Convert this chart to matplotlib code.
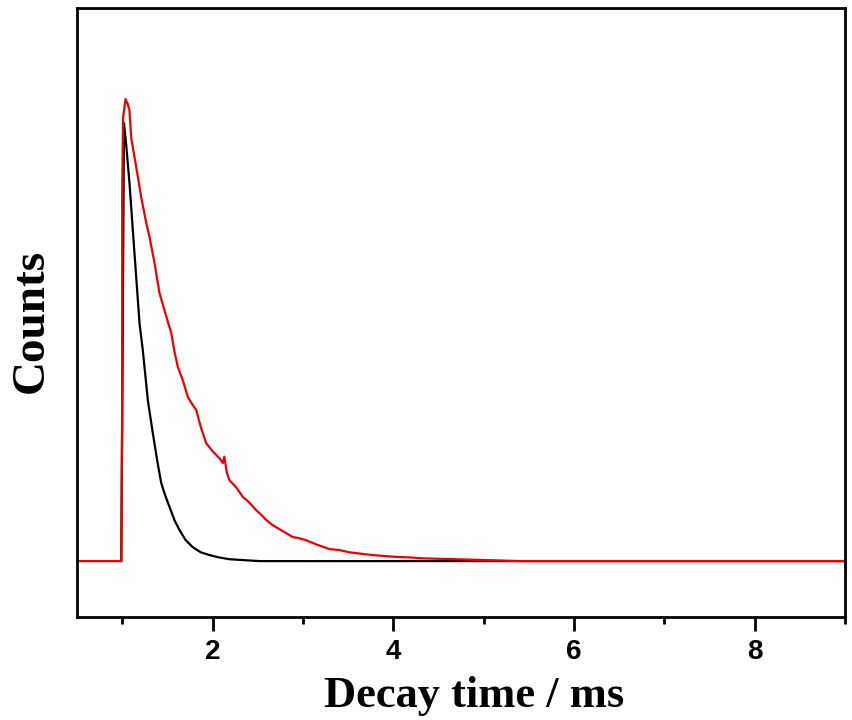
import matplotlib
matplotlib.use("Agg")
import matplotlib.pyplot as plt
from matplotlib.ticker import MultipleLocator

# red trace (slower decay); counts normalised to red peak
red_t = [0.5, 0.99, 1.0, 1.0, 1.01, 1.037, 1.06, 1.08, 1.10, 1.155, 1.21, 1.266,
         1.303, 1.358, 1.413, 1.46, 1.524, 1.543, 1.58, 1.616, 1.67, 1.727,
         1.78, 1.82, 1.87, 1.93, 2.0, 2.08, 2.114, 2.13, 2.16, 2.188, 2.26,
         2.335, 2.40, 2.484, 2.54, 2.594, 2.664, 2.75, 2.82, 2.886, 2.95, 3.037,
         3.15, 3.295, 3.40, 3.516, 3.64, 3.771, 3.90, 4.037, 4.18, 4.325, 4.50,
         4.70, 4.88, 5.07, 5.4, 9.0]
red_c = [0.0, 0.0, 0.35, 0.8, 0.96, 1.0, 0.99, 0.976, 0.916, 0.853, 0.788, 0.732,
         0.701, 0.645, 0.580, 0.548, 0.506, 0.494, 0.452, 0.420, 0.392, 0.355,
         0.338, 0.327, 0.290, 0.255, 0.238, 0.222, 0.212, 0.226, 0.190, 0.175,
         0.160, 0.139, 0.128, 0.110, 0.100, 0.089, 0.078, 0.068, 0.060, 0.052,
         0.050, 0.045, 0.036, 0.026, 0.024, 0.019, 0.016, 0.013, 0.011, 0.009,
         0.008, 0.006, 0.005, 0.004, 0.003, 0.002, 0.0, 0.0]

# black trace (faster decay)
black_t = [0.99, 1.0, 1.02, 1.045, 1.081, 1.118, 1.155, 1.192, 1.228, 1.284,
           1.339, 1.39, 1.432, 1.48, 1.524, 1.58, 1.635, 1.70, 1.782, 1.87,
           1.967, 2.07, 2.188, 2.52, 9.0]
black_c = [0.0, 0.3, 0.948, 0.900, 0.818, 0.716, 0.615, 0.515, 0.457, 0.348,
           0.277, 0.215, 0.169, 0.140, 0.117, 0.088, 0.067, 0.046, 0.030, 0.019,
           0.013, 0.008, 0.004, 0.0, 0.0]

W, H = 853, 720
fig = plt.figure(figsize=(W / 100, H / 100), dpi=100)
ax = fig.add_axes([77 / W, (H - 617) / H, 768 / W, 609 / H])

ax.plot(black_t, black_c, color="black", lw=1.6)
ax.plot(red_t, red_c, color="#ee0000", lw=1.6)

ax.set_xlim(0.5, 9.0)
ax.set_ylim(-0.121, 1.197)
ax.xaxis.set_major_locator(MultipleLocator(2))
ax.xaxis.set_minor_locator(MultipleLocator(1))
ax.set_yticks([])

for s in ax.spines.values():
    s.set_linewidth(2)

ax.tick_params(axis="x", which="major", direction="out", length=10, width=2,
               top=False, pad=6)
ax.tick_params(axis="x", which="minor", direction="out", length=5, width=2,
               top=False)
for lab in ax.get_xticklabels():
    lab.set_fontfamily("Liberation Sans")
    lab.set_fontweight("bold")
    lab.set_fontsize(20)

fig.text(474.5 / W, (H - 707) / H, "Decay time / ms", ha="center", va="baseline",
         fontfamily="Liberation Serif", fontweight="bold", fontsize=32)
fig.text(43 / W, (H - 320.5) / H, "Counts", ha="center", va="baseline",
         rotation=90, rotation_mode="anchor",
         fontfamily="Liberation Serif", fontweight="bold", fontsize=34)

fig.savefig("out.png", dpi=100)
